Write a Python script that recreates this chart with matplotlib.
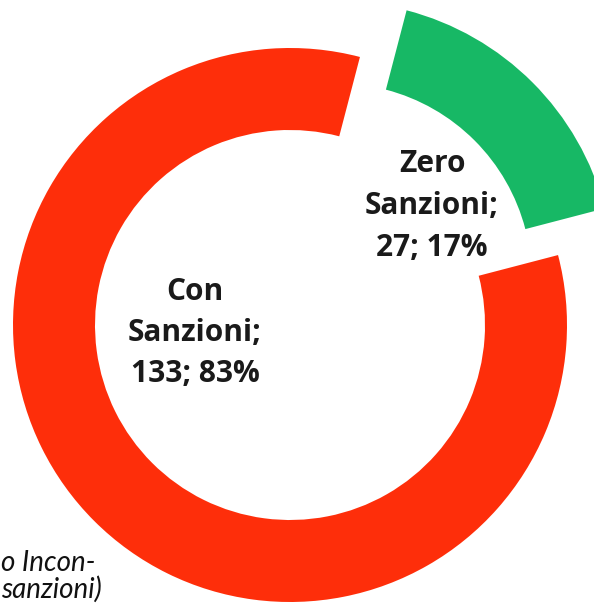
import matplotlib
matplotlib.use("Agg")
import matplotlib.pyplot as plt

names = ["Zero Sanzioni", "Con Sanzioni"]
values = [27, 133]
percents = ["17%", "83%"]
colors = ["#17B865", "#FE2E0A"]
explode_px = [66, 0]
note_lines = ["o Incon-", "sanzioni)"]

W, H = 594, 603
fig = plt.figure(figsize=(W / 100, H / 100), dpi=100)
ax = fig.add_axes([0, 0, 1, 1])

cx, cy = 290, H - 325
R = 277
ring = 82
total = sum(values)
start = 45 - 0.5 * 360 * values[0] / total

ax.pie(values, colors=colors, startangle=start, counterclock=True,
       radius=R, center=(cx, cy), explode=explode_px,
       wedgeprops=dict(width=ring, linewidth=0), frame=True)
ax.set_xlim(0, W)
ax.set_ylim(0, H)
ax.set_aspect("equal")
ax.axis("off")

lab_font = dict(family=["Open Sans", "DejaVu Sans"], fontweight="bold", fontsize=21.5,
                color="#1a1a1a", ha="center", va="center", linespacing=1.5)


def label(i):
    first, second = names[i].split(" ")
    return f"{first}\n{second};\n{values[i]}; {percents[i]}"


ax.text(432, H - 206, label(0), **lab_font)
ax.text(195, H - 333, label(1), **lab_font)

note_font = dict(family=["Lato", "DejaVu Sans"], style="italic", fontsize=20,
                 color="#111111", ha="left", va="baseline")
ax.text(1, H - 571, note_lines[0], **note_font)
ax.text(1, H - 598, note_lines[1], **note_font)

fig.savefig("out.png", dpi=100)
